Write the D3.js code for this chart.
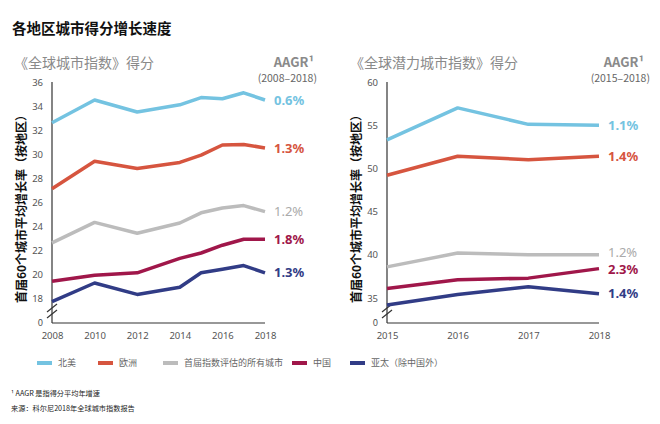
<!DOCTYPE html>
<html>
<head>
<meta charset="utf-8">
<script src="https://cdn.jsdelivr.net/npm/d3@7/dist/d3.min.js"></script>
<style>
  body { margin: 0; background: #fff; }
  svg { font-family: "Noto Sans CJK SC", "Noto Sans", sans-serif; }
</style>
</head>
<body>
<div id="chart"></div>
<script>
// data
const seriesNames = ["北美", "欧洲", "首届指数评估的所有城市", "中国", "亚太（除中国外）"];
const colors = ["#74c3e1", "#d6553f", "#bcbcbc", "#a0174a", "#313c86"];

const yearsA = [2008, 2010, 2012, 2014, 2015, 2016, 2017, 2018];
const northAmericaA = [32.6, 34.5, 33.5, 34.1, 34.7, 34.6, 35.1, 34.5];
const europeA = [27.1, 29.4, 28.8, 29.3, 29.9, 30.75, 30.8, 30.5];
const allCitiesA = [22.6, 24.3, 23.4, 24.25, 25.1, 25.5, 25.7, 25.2];
const chinaA = [19.4, 19.9, 20.1, 21.3, 21.75, 22.4, 22.9, 22.9];
const asiaPacA = [17.7, 19.25, 18.3, 18.9, 20.1, 20.4, 20.7, 20.1];
const aagrA = ["0.6%", "1.3%", "1.2%", "1.8%", "1.3%"];
const yTicksA = [18, 20, 22, 24, 26, 28, 30, 32, 34, 36];
const xTicksA = [2008, 2010, 2012, 2014, 2016, 2018];

const yearsB = [2015, 2016, 2017, 2018];
const northAmericaB = [53.3, 57.0, 55.1, 55.0];
const europeB = [49.2, 51.4, 51.0, 51.4];
const allCitiesB = [38.6, 40.2, 40.0, 40.0];
const chinaB = [36.1, 37.1, 37.3, 38.4];
const asiaPacB = [34.2, 35.4, 36.3, 35.5];
const aagrB = ["1.1%", "1.4%", "1.2%", "2.3%", "1.4%"];
const yTicksB = [35, 40, 45, 50, 55, 60];
const xTicksB = [2015, 2016, 2017, 2018];

const W = 660, H = 424;
const svg = d3.select("#chart").append("svg").attr("width", W).attr("height", H);

svg.append("text").attr("x", 12).attr("y", 34)
  .attr("font-size", 14.5).attr("font-weight", "bold").attr("fill", "#111")
  .text("各地区城市得分增长速度");

function panel(o) {
  const g = svg.append("g");
  const x = d3.scaleLinear().domain(o.xDomain).range([o.x0, o.x1]);
  const y = d3.scaleLinear().domain(o.yDomain).range([298, 82]);
  const base = 323;

  g.append("text").attr("x", o.titleX).attr("y", 68)
    .attr("font-size", 14).attr("fill", "#8a8a8a").text(o.title);
  g.append("text").attr("x", o.aagrX).attr("y", 67).attr("text-anchor", "end")
    .attr("font-size", 13).attr("font-weight", "bold").attr("fill", "#8a8a8a")
    .text("AAGR¹");
  g.append("text").attr("x", o.aagrX + o.rangeDx).attr("y", 82).attr("text-anchor", "end")
    .attr("font-size", 10.5).attr("fill", "#666").text(o.range);

  // y axis title
  g.append("text")
    .attr("transform", `translate(${o.x0 - 32},206) rotate(-90)`)
    .attr("text-anchor", "middle").attr("dominant-baseline", "central")
    .attr("font-size", 12).attr("font-weight", "bold").attr("fill", "#111")
    .text("首届60个城市平均增长率（按地区）");

  // axes
  const ya = g.append("g").attr("transform", `translate(${o.x0},0)`)
    .call(d3.axisLeft(y).tickValues(o.yTicks).tickSize(0).tickPadding(9));
  ya.select(".domain").remove();
  ya.selectAll("text").attr("font-size", 9.5).attr("fill", "#555")
    .attr("font-family", "'Noto Sans', sans-serif");
  g.append("text").attr("x", o.x0 - 9).attr("y", base).attr("dy", "0.32em")
    .attr("text-anchor", "end").attr("font-size", 9.5).attr("fill", "#555").text("0");

  const xa = g.append("g").attr("transform", `translate(0,${base})`)
    .call(d3.axisBottom(x).tickValues(o.xTicks).tickFormat(d3.format("d")).tickSize(0).tickPadding(9));
  xa.select(".domain").remove();
  xa.selectAll("text").attr("font-size", 9.5).attr("fill", "#555")
    .attr("font-family", "'Noto Sans', sans-serif");

  g.append("line").attr("x1", o.x0).attr("x2", o.x0).attr("y1", 82).attr("y2", base)
    .attr("stroke", "#333").attr("stroke-width", 1.2);
  g.append("line").attr("x1", o.x0).attr("x2", o.x1).attr("y1", base).attr("y2", base)
    .attr("stroke", "#333").attr("stroke-width", 1.2);

  // break marks
  [0, 6].forEach(d => {
    g.append("line").attr("x1", o.x0 - 5).attr("y1", 312 + d).attr("x2", o.x0 + 5).attr("y2", 304 + d)
      .attr("stroke", "#333").attr("stroke-width", 1.2);
  });

  const line = d3.line().x((d, i) => x(o.years[i])).y(d => y(d));
  o.series.forEach((s, k) => {
    g.append("path").datum(s).attr("d", line).attr("fill", "none")
      .attr("stroke", colors[k]).attr("stroke-width", 3.5)
      .attr("stroke-linejoin", "round");
    g.append("text").attr("x", x(o.years[o.years.length - 1]) + 9)
      .attr("y", y(s[s.length - 1]) + o.labelDy[k]).attr("dy", "0.35em")
      .attr("font-size", 13).attr("font-weight", k === 2 ? "normal" : "bold")
      .attr("font-family", "'Noto Sans', sans-serif")
      .attr("fill", k === 2 ? "#aaa" : colors[k]).text(o.aagr[k]);
  });
}

panel({
  x0: 52, x1: 265, xDomain: [2008, 2018], yDomain: [18, 36],
  years: yearsA, series: [northAmericaA, europeA, allCitiesA, chinaA, asiaPacA],
  aagr: aagrA, yTicks: yTicksA, xTicks: xTicksA, labelDy: [0, 0, 0, 0, 0],
  title: "《全球城市指数》得分", titleX: 14, aagrX: 314, rangeDx: 3, range: "(2008–2018)"
});
panel({
  x0: 387, x1: 599, xDomain: [2015, 2018], yDomain: [35, 60],
  years: yearsB, series: [northAmericaB, europeB, allCitiesB, chinaB, asiaPacB],
  aagr: aagrB, yTicks: yTicksB, xTicks: xTicksB, labelDy: [0, 0, -2, 1, 0],
  title: "《全球潜力城市指数》得分", titleX: 350, aagrX: 644, rangeDx: 6, range: "(2015–2018)"
});

// legend
const legendX = [37, 98, 163, 292, 350];
seriesNames.forEach((n, i) => {
  svg.append("line").attr("x1", legendX[i]).attr("x2", legendX[i] + 15)
    .attr("y1", 363).attr("y2", 363).attr("stroke", colors[i]).attr("stroke-width", 4);
  svg.append("text").attr("x", legendX[i] + 21).attr("y", 363).attr("dy", "0.35em")
    .attr("font-size", 9).attr("fill", "#666").text(n);
});

svg.append("text").attr("x", 11).attr("y", 396).attr("font-size", 7.2).attr("fill", "#222")
  .text("¹ AAGR 是指得分平均年增速");
svg.append("text").attr("x", 11).attr("y", 411).attr("font-size", 7.2).attr("fill", "#222")
  .text("来源：科尔尼2018年全球城市指数报告");
</script>
</body>
</html>
